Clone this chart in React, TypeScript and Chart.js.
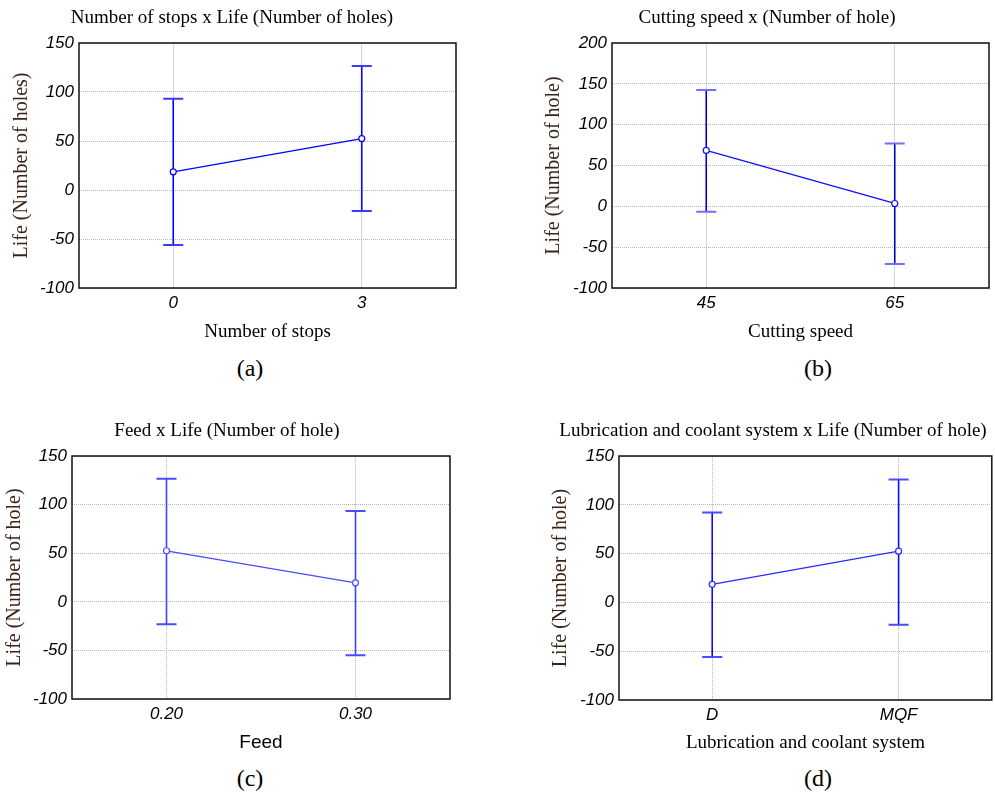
import React, { useEffect, useRef } from 'react';
import { Chart, registerables } from 'chart.js';

Chart.register(...registerables);

// (a) Number of stops
const stopsCategories = ['0', '3'];
const stopsMeans = [18.5, 52.5];
const stopsLower = [-56, -21.5];
const stopsUpper = [93, 126.5];

// (b) Cutting speed
const speedCategories = ['45', '65'];
const speedMeans = [68.5, 3.5];
const speedLower = [-6.5, -70.5];
const speedUpper = [142.5, 77];

// (c) Feed
const feedCategories = ['0.20', '0.30'];
const feedMeans = [52.5, 19.5];
const feedLower = [-23, -55];
const feedUpper = [126.5, 93.5];

// (d) Lubrication and coolant system
const lubeCategories = ['D', 'MQF'];
const lubeMeans = [18.5, 52.5];
const lubeLower = [-56, -23];
const lubeUpper = [92, 126];

const SERIF = '"Liberation Serif", "Times New Roman", serif';
const SANS = '"Liberation Sans", Arial, sans-serif';

type PanelProps = {
  left: number;
  top: number;
  width: number;
  height: number;
  areaL: number;
  areaT: number;
  areaR: number;
  areaB: number;
  categories: string[];
  means: number[];
  lower: number[];
  upper: number[];
  yMin: number;
  yMax: number;
  xTitle: string;
  xTitleSans?: boolean;
  yTitle: string;
  yTitleCenterX: number;
  xTitleCenterY: number;
  xTickCenterY: number;
  lineColor: string;
  stemColor: string;
  capColor: string;
  vGridDash: number[];
  vGridColor: string;
};

function Panel(p: PanelProps) {
  const ref = useRef<HTMLCanvasElement>(null);
  useEffect(() => {
    const canvas = ref.current;
    if (!canvas) return;
    const aL = p.areaL - p.left;
    const aT = p.areaT - p.top;
    const aR = p.areaR - p.left;
    const aB = p.areaB - p.top;
    const tickSize = 17;
    const xTitleSize = 19;
    const yTitleSize = 20;

    const errorBars = {
      id: 'errorBars',
      beforeDatasetsDraw(chart: any) {
        const ctx = chart.ctx;
        const xs = chart.scales.x;
        const ys = chart.scales.y;
        ctx.save();
        p.means.forEach((_, i) => {
          const px = xs.getPixelForValue(i);
          const yl = ys.getPixelForValue(p.lower[i]);
          const yu = ys.getPixelForValue(p.upper[i]);
          ctx.strokeStyle = p.stemColor;
          ctx.lineWidth = 1.6;
          ctx.beginPath();
          ctx.moveTo(px, yu);
          ctx.lineTo(px, yl);
          ctx.stroke();
          ctx.strokeStyle = p.capColor;
          ctx.lineWidth = 2;
          ctx.beginPath();
          ctx.moveTo(px - 10, yu);
          ctx.lineTo(px + 10, yu);
          ctx.moveTo(px - 10, yl);
          ctx.lineTo(px + 10, yl);
          ctx.stroke();
        });
        ctx.restore();
      },
    };

    const frame = {
      id: 'frame',
      afterDraw(chart: any) {
        const { left, top, right, bottom } = chart.chartArea;
        const ctx = chart.ctx;
        ctx.save();
        ctx.strokeStyle = '#111';
        ctx.lineWidth = 1.5;
        ctx.strokeRect(left, top, right - left, bottom - top);
        ctx.restore();
      },
    };

    const chart = new Chart(canvas, {
      type: 'line',
      data: {
        labels: p.categories,
        datasets: [
          {
            data: p.means,
            borderColor: p.lineColor,
            borderWidth: 1.3,
            pointRadius: 3,
            pointBackgroundColor: '#ffffff',
            pointBorderColor: p.lineColor,
            pointBorderWidth: 1.2,
            tension: 0,
            fill: false,
          },
        ],
      },
      options: {
        responsive: false,
        animation: false,
        layout: { padding: { left: 0, top: aT, right: p.width - aR, bottom: 0 } },
        plugins: {
          legend: { display: false },
          tooltip: { enabled: false },
          title: { display: false },
        },
        scales: {
          x: {
            type: 'category',
            offset: true,
            grid: { offset: false, color: p.vGridColor, drawTicks: false, lineWidth: 1 },
            border: { display: false, dash: p.vGridDash },
            ticks: {
              font: { family: SANS, size: tickSize, style: 'italic', lineHeight: 1.2 },
              color: '#000',
              padding: p.xTickCenterY - p.areaB - (tickSize * 1.2) / 2,
              maxRotation: 0,
              autoSkip: false,
            },
            title: {
              display: true,
              text: p.xTitle,
              color: '#000',
              font: { family: p.xTitleSans ? SANS : SERIF, size: xTitleSize, lineHeight: 1.2 },
              padding: { top: 0, bottom: p.top + p.height - p.xTitleCenterY - (xTitleSize * 1.2) / 2 },
            },
            afterFit: (s: any) => {
              s.height = p.height - aB;
            },
          },
          y: {
            type: 'linear',
            min: p.yMin,
            max: p.yMax,
            grid: { color: '#b4b4b4', drawTicks: false, lineWidth: 1 },
            border: { display: false, dash: [1, 1] },
            ticks: {
              stepSize: 50,
              font: { family: SANS, size: tickSize, style: 'italic', lineHeight: 1.2 },
              color: '#000',
              padding: 5,
            },
            title: {
              display: true,
              text: p.yTitle,
              color: '#3a2418',
              font: { family: SERIF, size: yTitleSize, lineHeight: 1.2 },
              padding: { top: p.yTitleCenterX - p.left - (yTitleSize * 1.2) / 2, bottom: 0 },
            },
            afterFit: (s: any) => {
              s.width = aL;
            },
          },
        },
      } as any,
      plugins: [errorBars, frame],
    });
    return () => chart.destroy();
  }, []);
  return (
    <canvas
      ref={ref}
      width={p.width}
      height={p.height}
      style={{ position: 'absolute', left: p.left, top: p.top, width: p.width, height: p.height }}
    />
  );
}

function Label(props: { text: string; cx: number; cy: number; size: number }) {
  return (
    <div
      style={{
        position: 'absolute',
        left: props.cx,
        top: props.cy,
        transform: 'translate(-50%, -50%)',
        fontFamily: SERIF,
        fontSize: props.size,
        lineHeight: 1,
        whiteSpace: 'nowrap',
        color: '#000',
      }}
    >
      {props.text}
    </div>
  );
}

export default function App() {
  return (
    <div
      style={{
        position: 'absolute',
        left: 0,
        top: 0,
        width: 995,
        height: 794,
        overflow: 'hidden',
        background: '#fff',
      }}
    >
      <Panel
        left={0} top={0} width={497} height={350}
        areaL={79} areaT={43} areaR={456} areaB={288}
        categories={stopsCategories} means={stopsMeans} lower={stopsLower} upper={stopsUpper}
        yMin={-100} yMax={150}
        xTitle="Number of stops" yTitle="Life (Number of holes)"
        yTitleCenterX={22} xTitleCenterY={332} xTickCenterY={303}
        lineColor="#0000ff" stemColor="#0000ff" capColor="#3a3aff"
        vGridDash={[]} vGridColor="#d4d4d4"
      />
      <Panel
        left={497} top={0} width={498} height={350}
        areaL={612} areaT={43} areaR={989} areaB={288}
        categories={speedCategories} means={speedMeans} lower={speedLower} upper={speedUpper}
        yMin={-100} yMax={200}
        xTitle="Cutting speed" yTitle="Life (Number of hole)"
        yTitleCenterX={554} xTitleCenterY={332} xTickCenterY={303}
        lineColor="#1010ff" stemColor="#0000c8" capColor="#6e6eff"
        vGridDash={[]} vGridColor="#d4d4d4"
      />
      <Panel
        left={0} top={400} width={497} height={360}
        areaL={72} areaT={456} areaR={450} areaB={699}
        categories={feedCategories} means={feedMeans} lower={feedLower} upper={feedUpper}
        yMin={-100} yMax={150}
        xTitle="Feed" xTitleSans yTitle="Life (Number of hole)"
        yTitleCenterX={14.5} xTitleCenterY={743} xTickCenterY={714}
        lineColor="#4a4aff" stemColor="#4040ff" capColor="#4a4aff"
        vGridDash={[1, 1]} vGridColor="#b4b4b4"
      />
      <Panel
        left={497} top={400} width={500} height={360}
        areaL={619} areaT={456} areaR={996} areaB={700}
        categories={lubeCategories} means={lubeMeans} lower={lubeLower} upper={lubeUpper}
        yMin={-100} yMax={150}
        xTitle="Lubrication and coolant system" yTitle="Life (Number of hole)"
        yTitleCenterX={561} xTitleCenterY={743} xTickCenterY={715}
        lineColor="#2a2aff" stemColor="#0a0aff" capColor="#4a4aff"
        vGridDash={[1, 1]} vGridColor="#b4b4b4"
      />
      <Label text="Number of stops x Life (Number of holes)" cx={232} cy={16} size={19} />
      <Label text="Cutting speed x (Number of hole)" cx={767} cy={16} size={19} />
      <Label text="Feed x Life (Number of hole)" cx={227} cy={429} size={19} />
      <Label text="Lubrication and coolant system x Life (Number of hole)" cx={773} cy={429} size={19} />
      <Label text="(a)" cx={250} cy={368} size={24} />
      <Label text="(b)" cx={818} cy={368} size={24} />
      <Label text="(c)" cx={250} cy={778} size={24} />
      <Label text="(d)" cx={818} cy={778} size={24} />
    </div>
  );
}
